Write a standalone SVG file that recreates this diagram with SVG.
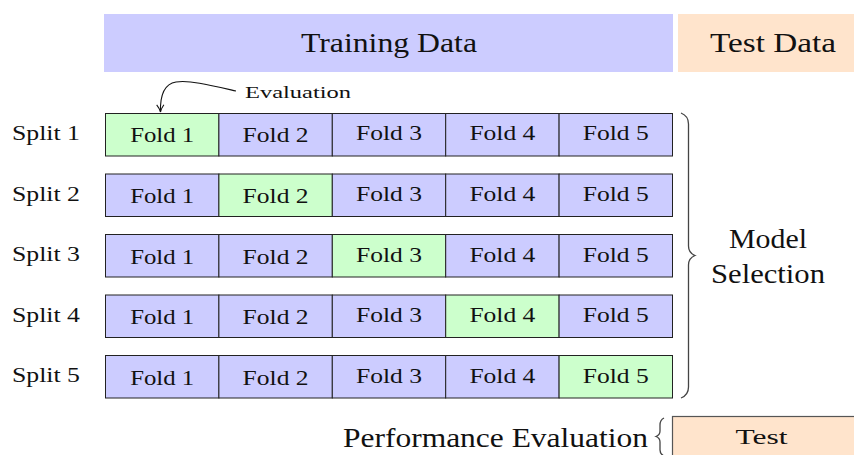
<svg xmlns="http://www.w3.org/2000/svg" width="854" height="455" viewBox="0 0 854 455">
  <style>
    text { font-family: "Liberation Serif", "DejaVu Serif", serif; fill: #111; }
    .hdr { font-size: 28px; text-anchor: middle; }
    .fold { font-size: 21px; text-anchor: middle; }
    .split { font-size: 20px; }
    .train { fill: #ccccff; stroke: #222; stroke-width: 1; }
    .eval { fill: #ccffcc; stroke: #222; stroke-width: 1; }
    .brace { fill: none; stroke: #444; stroke-width: 1.3; }
  </style>
  <defs>
    <marker id="tip" viewBox="0 0 10 10" refX="9" refY="5" markerWidth="9" markerHeight="9" orient="auto" markerUnits="userSpaceOnUse">
      <path d="M1 1 Q5 4 9 5 Q5 6 1 9" fill="none" stroke="#111" stroke-width="1.2"/>
    </marker>
  </defs>

  <!-- data partition header -->
  <g id="training-data">
    <rect x="104" y="14" width="569" height="58" fill="#ccccff"/>
    <text class="hdr" x="389" y="52" textLength="176" lengthAdjust="spacingAndGlyphs">Training Data</text>
  </g>
  <g id="test-data">
    <rect x="678" y="14" width="176" height="58" fill="#ffe4cc"/>
    <text class="hdr" x="773" y="52" textLength="126" lengthAdjust="spacingAndGlyphs">Test Data</text>
  </g>

  <!-- split 1 -->
  <g id="split-1">
    <text class="split" x="12" y="140" textLength="68" lengthAdjust="spacingAndGlyphs">Split 1</text>
    <rect class="eval" x="105.5" y="113.5" width="113.4" height="42.5"/>
    <rect class="train" x="218.9" y="113.5" width="113.4" height="42.5"/>
    <rect class="train" x="332.3" y="113.5" width="113.4" height="42.5"/>
    <rect class="train" x="445.7" y="113.5" width="113.4" height="42.5"/>
    <rect class="train" x="559.1" y="113.5" width="113.4" height="42.5"/>
    <text class="fold" x="162.2" y="142" textLength="64" lengthAdjust="spacingAndGlyphs">Fold 1</text>
    <text class="fold" x="275.6" y="142" textLength="66" lengthAdjust="spacingAndGlyphs">Fold 2</text>
    <text class="fold" x="389" y="140" textLength="66" lengthAdjust="spacingAndGlyphs">Fold 3</text>
    <text class="fold" x="502.4" y="140" textLength="66" lengthAdjust="spacingAndGlyphs">Fold 4</text>
    <text class="fold" x="615.8" y="140" textLength="66" lengthAdjust="spacingAndGlyphs">Fold 5</text>
  </g>

  <!-- split 2 -->
  <g id="split-2">
    <text class="split" x="12" y="201" textLength="68" lengthAdjust="spacingAndGlyphs">Split 2</text>
    <rect class="train" x="105.5" y="174" width="113.4" height="42.5"/>
    <rect class="eval" x="218.9" y="174" width="113.4" height="42.5"/>
    <rect class="train" x="332.3" y="174" width="113.4" height="42.5"/>
    <rect class="train" x="445.7" y="174" width="113.4" height="42.5"/>
    <rect class="train" x="559.1" y="174" width="113.4" height="42.5"/>
    <text class="fold" x="162.2" y="203" textLength="64" lengthAdjust="spacingAndGlyphs">Fold 1</text>
    <text class="fold" x="275.6" y="203" textLength="66" lengthAdjust="spacingAndGlyphs">Fold 2</text>
    <text class="fold" x="389" y="201" textLength="66" lengthAdjust="spacingAndGlyphs">Fold 3</text>
    <text class="fold" x="502.4" y="201" textLength="66" lengthAdjust="spacingAndGlyphs">Fold 4</text>
    <text class="fold" x="615.8" y="201" textLength="66" lengthAdjust="spacingAndGlyphs">Fold 5</text>
  </g>

  <!-- split 3 -->
  <g id="split-3">
    <text class="split" x="12" y="261" textLength="68" lengthAdjust="spacingAndGlyphs">Split 3</text>
    <rect class="train" x="105.5" y="234.5" width="113.4" height="42.5"/>
    <rect class="train" x="218.9" y="234.5" width="113.4" height="42.5"/>
    <rect class="eval" x="332.3" y="234.5" width="113.4" height="42.5"/>
    <rect class="train" x="445.7" y="234.5" width="113.4" height="42.5"/>
    <rect class="train" x="559.1" y="234.5" width="113.4" height="42.5"/>
    <text class="fold" x="162.2" y="263.5" textLength="64" lengthAdjust="spacingAndGlyphs">Fold 1</text>
    <text class="fold" x="275.6" y="263.5" textLength="66" lengthAdjust="spacingAndGlyphs">Fold 2</text>
    <text class="fold" x="389" y="261.5" textLength="66" lengthAdjust="spacingAndGlyphs">Fold 3</text>
    <text class="fold" x="502.4" y="261.5" textLength="66" lengthAdjust="spacingAndGlyphs">Fold 4</text>
    <text class="fold" x="615.8" y="261.5" textLength="66" lengthAdjust="spacingAndGlyphs">Fold 5</text>
  </g>

  <!-- split 4 -->
  <g id="split-4">
    <text class="split" x="12" y="322" textLength="68" lengthAdjust="spacingAndGlyphs">Split 4</text>
    <rect class="train" x="105.5" y="295" width="113.4" height="42.5"/>
    <rect class="train" x="218.9" y="295" width="113.4" height="42.5"/>
    <rect class="train" x="332.3" y="295" width="113.4" height="42.5"/>
    <rect class="eval" x="445.7" y="295" width="113.4" height="42.5"/>
    <rect class="train" x="559.1" y="295" width="113.4" height="42.5"/>
    <text class="fold" x="162.2" y="324" textLength="64" lengthAdjust="spacingAndGlyphs">Fold 1</text>
    <text class="fold" x="275.6" y="324" textLength="66" lengthAdjust="spacingAndGlyphs">Fold 2</text>
    <text class="fold" x="389" y="322" textLength="66" lengthAdjust="spacingAndGlyphs">Fold 3</text>
    <text class="fold" x="502.4" y="322" textLength="66" lengthAdjust="spacingAndGlyphs">Fold 4</text>
    <text class="fold" x="615.8" y="322" textLength="66" lengthAdjust="spacingAndGlyphs">Fold 5</text>
  </g>

  <!-- split 5 -->
  <g id="split-5">
    <text class="split" x="12" y="382" textLength="68" lengthAdjust="spacingAndGlyphs">Split 5</text>
    <rect class="train" x="105.5" y="355.5" width="113.4" height="42.5"/>
    <rect class="train" x="218.9" y="355.5" width="113.4" height="42.5"/>
    <rect class="train" x="332.3" y="355.5" width="113.4" height="42.5"/>
    <rect class="train" x="445.7" y="355.5" width="113.4" height="42.5"/>
    <rect class="eval" x="559.1" y="355.5" width="113.4" height="42.5"/>
    <text class="fold" x="162.2" y="384.5" textLength="64" lengthAdjust="spacingAndGlyphs">Fold 1</text>
    <text class="fold" x="275.6" y="384.5" textLength="66" lengthAdjust="spacingAndGlyphs">Fold 2</text>
    <text class="fold" x="389" y="382.5" textLength="66" lengthAdjust="spacingAndGlyphs">Fold 3</text>
    <text class="fold" x="502.4" y="382.5" textLength="66" lengthAdjust="spacingAndGlyphs">Fold 4</text>
    <text class="fold" x="615.8" y="382.5" textLength="66" lengthAdjust="spacingAndGlyphs">Fold 5</text>
  </g>

  <!-- evaluation callout -->
  <g id="evaluation-label">
    <text x="245" y="98" style="font-size:17px" textLength="106" lengthAdjust="spacingAndGlyphs">Evaluation</text>
  </g>

  <!-- model selection label -->
  <g id="model-selection">
    <text class="hdr" x="768" y="248" style="font-size:27px" textLength="78" lengthAdjust="spacingAndGlyphs">Model</text>
    <text class="hdr" x="768" y="283" style="font-size:27px" textLength="114" lengthAdjust="spacingAndGlyphs">Selection</text>
  </g>

  <!-- held-out test -->
  <g id="test">
    <rect x="672.5" y="416.5" width="190" height="50" fill="#ffe4cc" stroke="#555" stroke-width="1.2"/>
    <text x="761.5" y="444" style="font-size:21px;text-anchor:middle" textLength="52" lengthAdjust="spacingAndGlyphs">Test</text>
  </g>
  <g id="performance-evaluation">
    <text x="343" y="447" style="font-size:27px" textLength="305" lengthAdjust="spacingAndGlyphs">Performance Evaluation</text>
  </g>

  <!-- connectors and braces -->
  <g id="connectors">
    <path d="M236 91 C210 85 190 80 176 82 C164 84 160 96 160.5 112" fill="none" stroke="#111" stroke-width="1.1" marker-end="url(#tip)"/>
    <path class="brace" d="M681 113 Q688.5 116 688.5 124 L688.5 246 Q688.5 253 695 255.5 Q688.5 258 688.5 265 L688.5 387 Q688.5 395 681 398"/>
    <path class="brace" d="M664 418 Q660 420 660 425 L660 431 Q660 435 656 436.5 Q660 438 660 442 L660 450 Q660 454 664 456"/>
  </g>
</svg>
